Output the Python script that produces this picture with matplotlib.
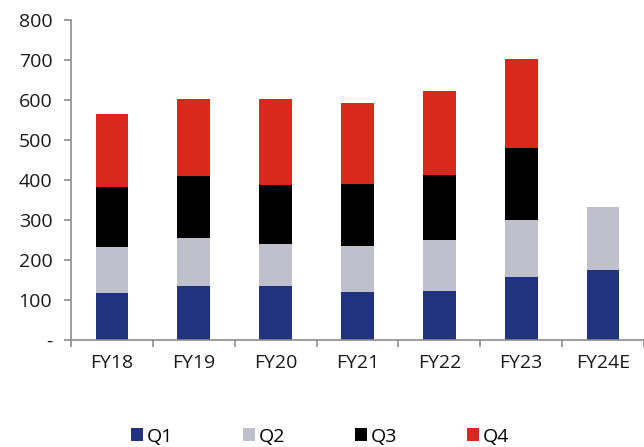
import matplotlib

matplotlib.use("Agg")
import matplotlib.pyplot as plt
import numpy as np

plt.rcParams["font.family"] = ["Open Sans", "DejaVu Sans"]

years = ["FY18", "FY19", "FY20", "FY21", "FY22", "FY23", "FY24E"]
q1 = [118, 136, 136, 121, 123, 158, 175]
q2 = [114, 120, 105, 115, 127, 141, 157]
q3 = [151, 155, 147, 154, 163, 181, np.nan]
q4 = [183, 191, 214, 203, 209, 223, np.nan]
series = [("Q1", q1, "#21327f"), ("Q2", q2, "#c0bfcc"),
          ("Q3", q3, "#000000"), ("Q4", q4, "#da291c")]
yticks = [0, 100, 200, 300, 400, 500, 600, 700, 800]
ytick_labels = ["-", "100", "200", "300", "400", "500", "600", "700", "800"]

_AX = "#8c8c8c"
_TXT = "#1a1a1a"

fig = plt.figure(figsize=(6.44, 4.47), dpi=100)
ax = fig.add_axes([71 / 644, 1 - 340 / 447, 573 / 644, 320 / 447])

x = np.arange(len(years))
bottom = np.zeros(len(years))
for name, vals, color in series:
    v = np.array(vals, dtype=float)
    ax.bar(x, np.nan_to_num(v), bottom=bottom, width=0.4, color=color,
           edgecolor="none", label=name)
    bottom += np.nan_to_num(v)

ax.set_xlim(-0.5, len(years) - 0.5)
ax.set_ylim(0, 800)
ax.set_yticks(yticks)
ax.set_yticklabels(ytick_labels)
ax.set_xticks(x)
ax.set_xticklabels(years)
ax.set_xticks(np.arange(len(years) + 1) - 0.5, minor=True)
ax.tick_params(axis="x", which="major", length=0, pad=10, labelsize=14, colors=_TXT)
ax.tick_params(axis="x", which="minor", length=5, color=_AX, width=1.2)
ax.tick_params(axis="y", length=5, color=_AX, width=1.2, labelsize=14, pad=8.5)
for lab in ax.get_yticklabels():
    lab.set_color(_TXT)
for s in ("top", "right"):
    ax.spines[s].set_visible(False)
for s in ("left", "bottom"):
    ax.spines[s].set_color(_AX)
    ax.spines[s].set_linewidth(1.2)

fig.legend(loc="lower center", bbox_to_anchor=(320 / 644, -0.036), ncol=4,
           frameon=False, fontsize=14, handlelength=0.65, handleheight=0.65,
           handletextpad=0.2, columnspacing=3.55)

fig.savefig("out.png", dpi=100, facecolor="white")
